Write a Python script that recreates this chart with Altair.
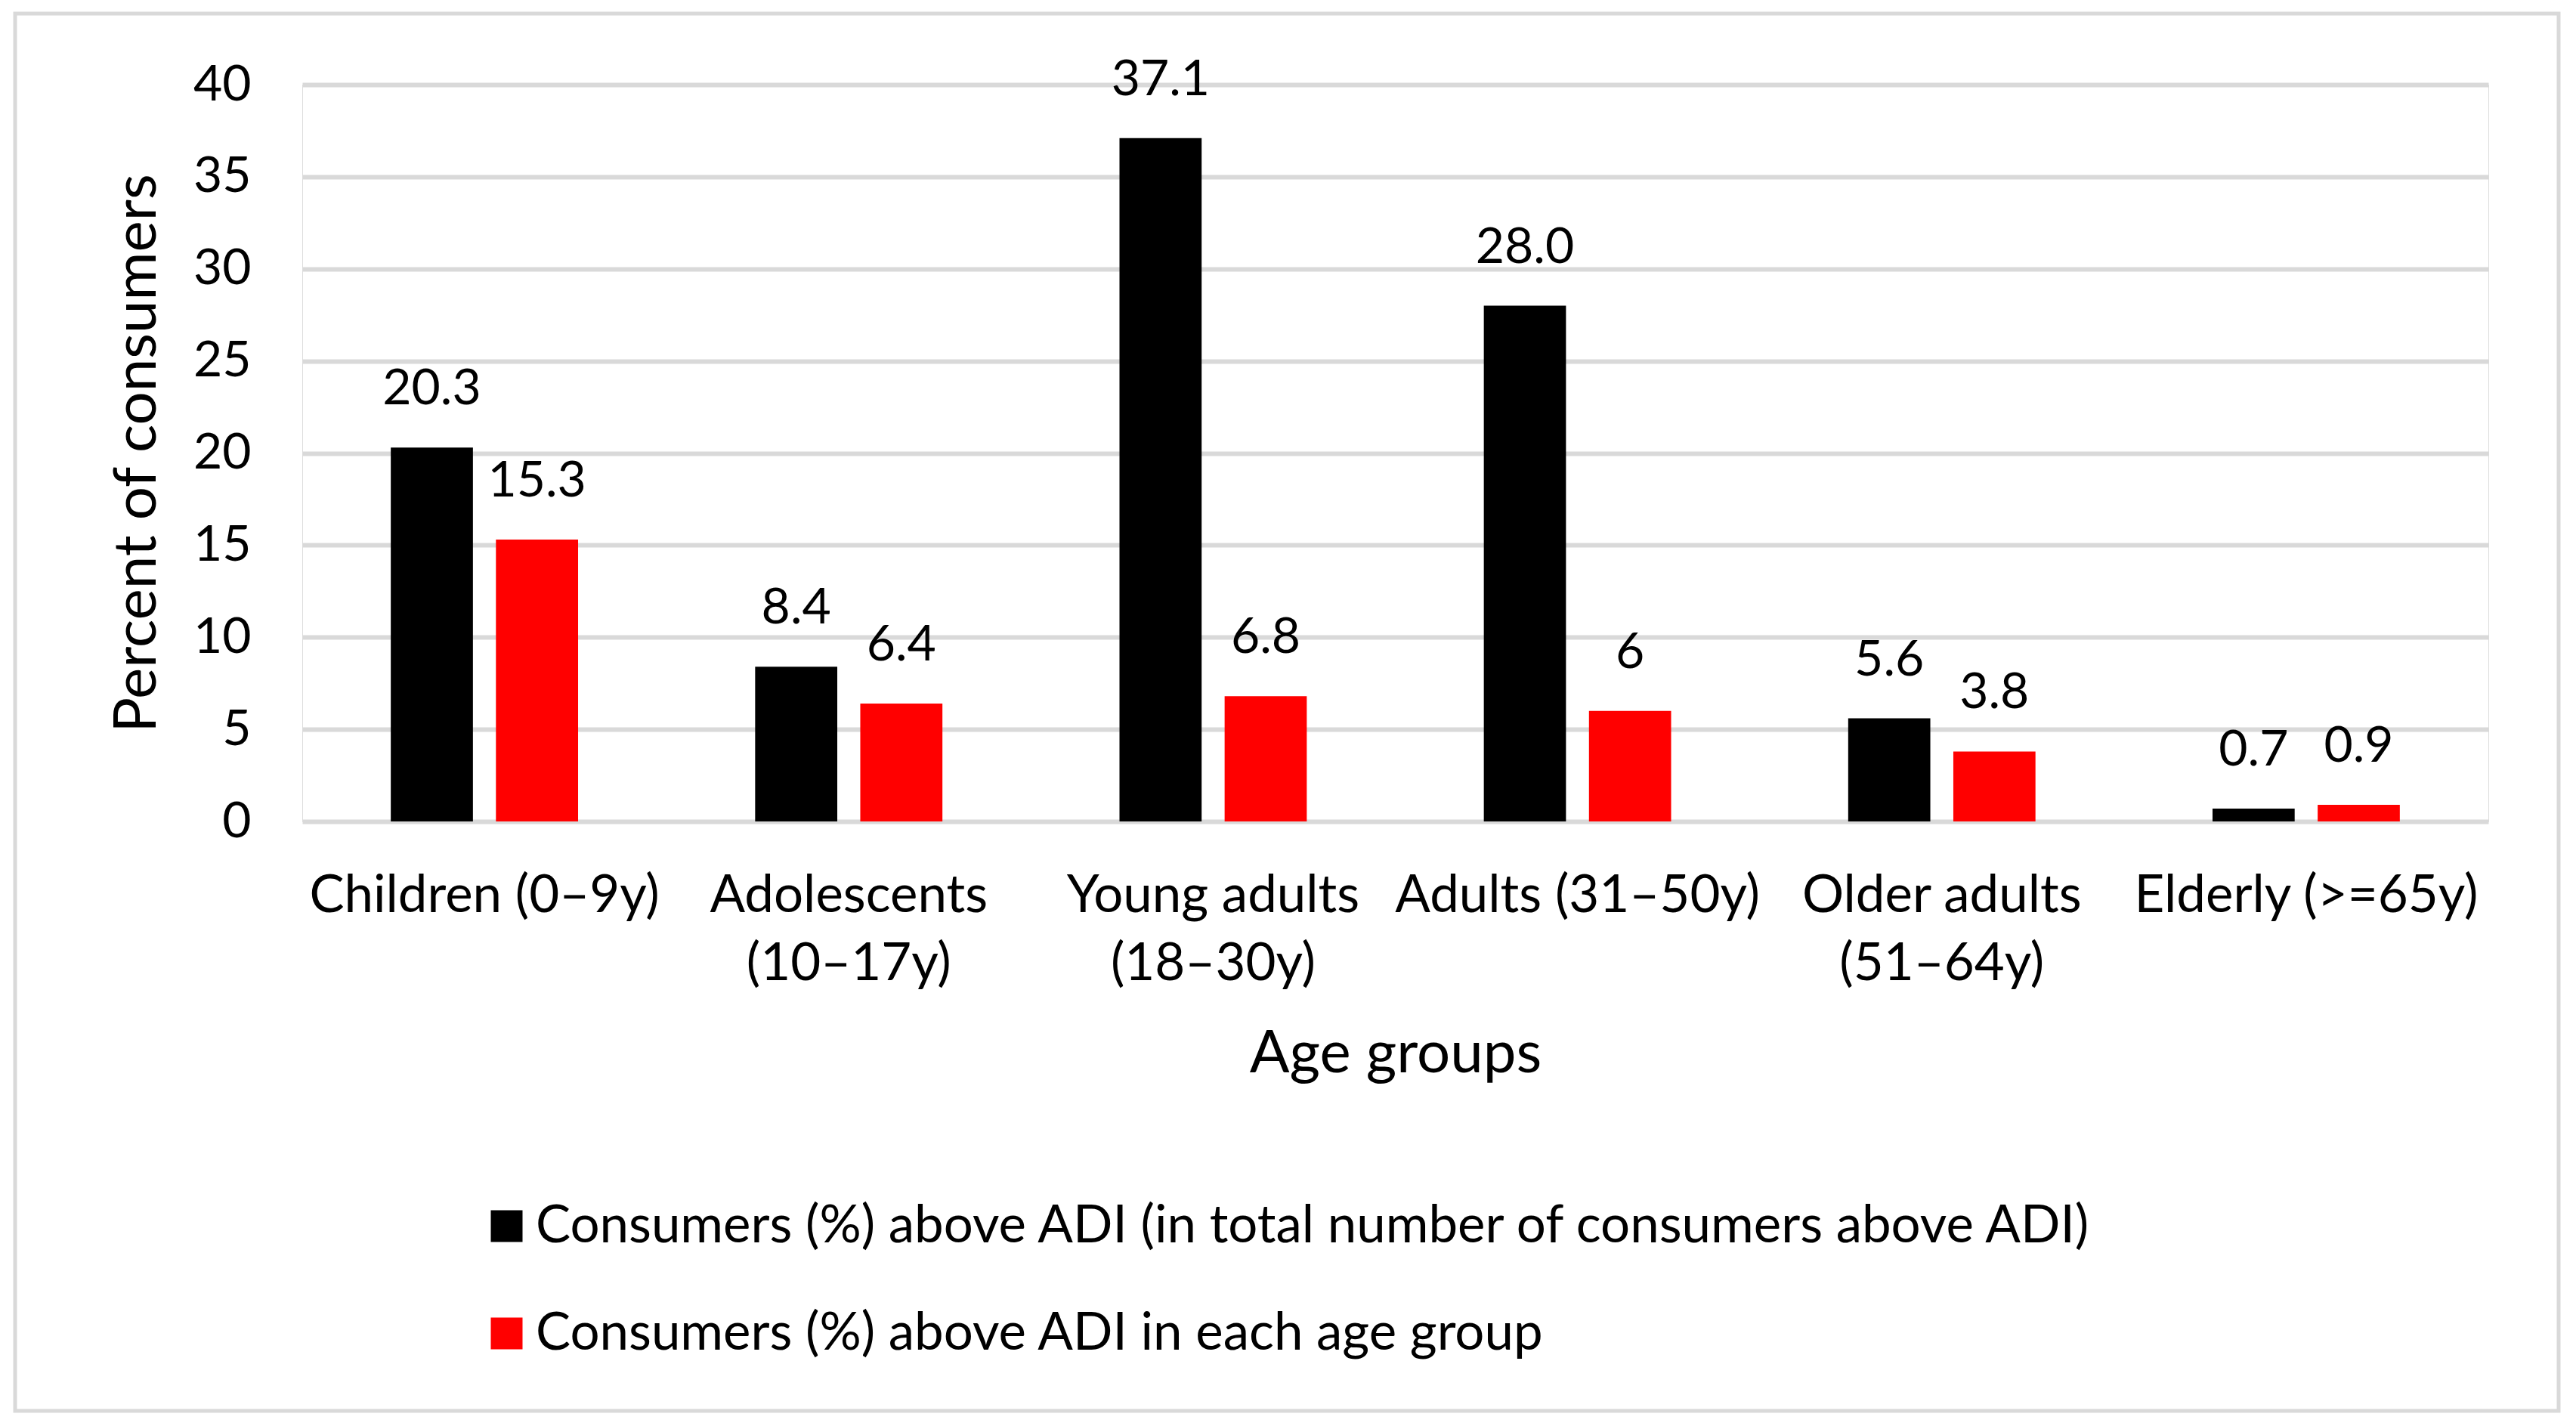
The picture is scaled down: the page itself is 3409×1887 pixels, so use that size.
import altair as alt
import pandas as pd

groups = ["Children (0–9y)", "Adolescents (10–17y)", "Young adults (18–30y)",
          "Adults (31–50y)", "Older adults (51–64y)", "Elderly (>=65y)"]
series = ["Consumers (%) above ADI (in total number of consumers above ADI)",
          "Consumers (%) above ADI in each age group"]
total_vals = [20.3, 8.4, 37.1, 28.0, 5.6, 0.7]
total_labels = ["20.3", "8.4", "37.1", "28.0", "5.6", "0.7"]
group_vals = [15.3, 6.4, 6.8, 6.0, 3.8, 0.9]
group_labels = ["15.3", "6.4", "6.8", "6", "3.8", "0.9"]
colors = ["#000000", "#FF0000"]
y_ticks = [0, 5, 10, 15, 20, 25, 30, 35, 40]

rows = []
for g, v, l in zip(groups, total_vals, total_labels):
    rows.append({"group": g, "series": series[0], "value": v, "label": l})
for g, v, l in zip(groups, group_vals, group_labels):
    rows.append({"group": g, "series": series[1], "value": v, "label": l})
df = pd.DataFrame(rows)

FONT = "Lato"
FS = 66
LFS = 69
TFS = 78
W, H = 2893, 975

x_enc = alt.X("group:N", sort=groups,
              scale=alt.Scale(paddingInner=0, paddingOuter=0),
              axis=alt.Axis(title="Age groups", labelAngle=0, domain=False, ticks=False,
                            labelFont=FONT, labelFontSize=LFS, labelColor="#000000",
                            labelPadding=64, labelLineHeight=90, labelLimit=1000,
                            labelExpr="length(datum.label) > 16 ? [slice(datum.label, 0, lastindexof(datum.label, ' ')), slice(datum.label, lastindexof(datum.label, ' ') + 1)] : datum.label",
                            titleFont=FONT, titleFontSize=TFS, titleFontWeight="normal",
                            titleColor="#000000", titlePadding=69))
xoff = alt.XOffset("series:N", sort=series,
                   scale=alt.Scale(paddingInner=0.21875, paddingOuter=0.842))
y_enc = alt.Y("value:Q", scale=alt.Scale(domain=[0, 40], nice=False),
              axis=alt.Axis(title="Percent of consumers", values=y_ticks, domain=False,
                            ticks=False, tickSize=0, labelPadding=68,
                            labelFont=FONT, labelFontSize=FS, labelColor="#000000",
                            gridColor="#d9d9d9", gridWidth=6,
                            titleFont=FONT, titleFontSize=TFS, titleFontWeight="normal",
                            titleColor="#000000", titlePadding=34))

bars = alt.Chart(df).mark_bar().encode(
    x=x_enc, xOffset=xoff, y=y_enc,
    color=alt.Color("series:N", sort=series,
                    scale=alt.Scale(domain=series, range=colors),
                    legend=alt.Legend(title=None, orient="none", legendX=236, legendY=1476,
                                      direction="vertical", symbolType="square",
                                      symbolSize=1764, symbolStrokeWidth=0,
                                      labelFont=FONT, labelFontSize=LFS, labelColor="#000000",
                                      labelOffset=4, rowPadding=72, padding=0,
                                      labelLimit=3000)),
)

texts = alt.Chart(df).mark_text(baseline="alphabetic", dy=-57, font=FONT, fontSize=FS,
                                color="#000000").encode(
    x=alt.X("group:N", sort=groups), xOffset=alt.XOffset("series:N", sort=series),
    y="value:Q", text="label:N")

border = alt.Chart(pd.DataFrame({"a": [0]})).mark_rect(
    fillOpacity=0, stroke="#d9d9d9", strokeWidth=5).encode(
    x=alt.value(-380), x2=alt.value(2986), y=alt.value(-94), y2=alt.value(1755))

chart = alt.layer(border, bars, texts).properties(
    width=W, height=H,
    padding={"left": 9, "top": 7, "right": 5, "bottom": 5},
).configure_view(stroke=None).configure(background="white")

chart.save("out.html", embed_options={"renderer": "svg", "actions": False})
